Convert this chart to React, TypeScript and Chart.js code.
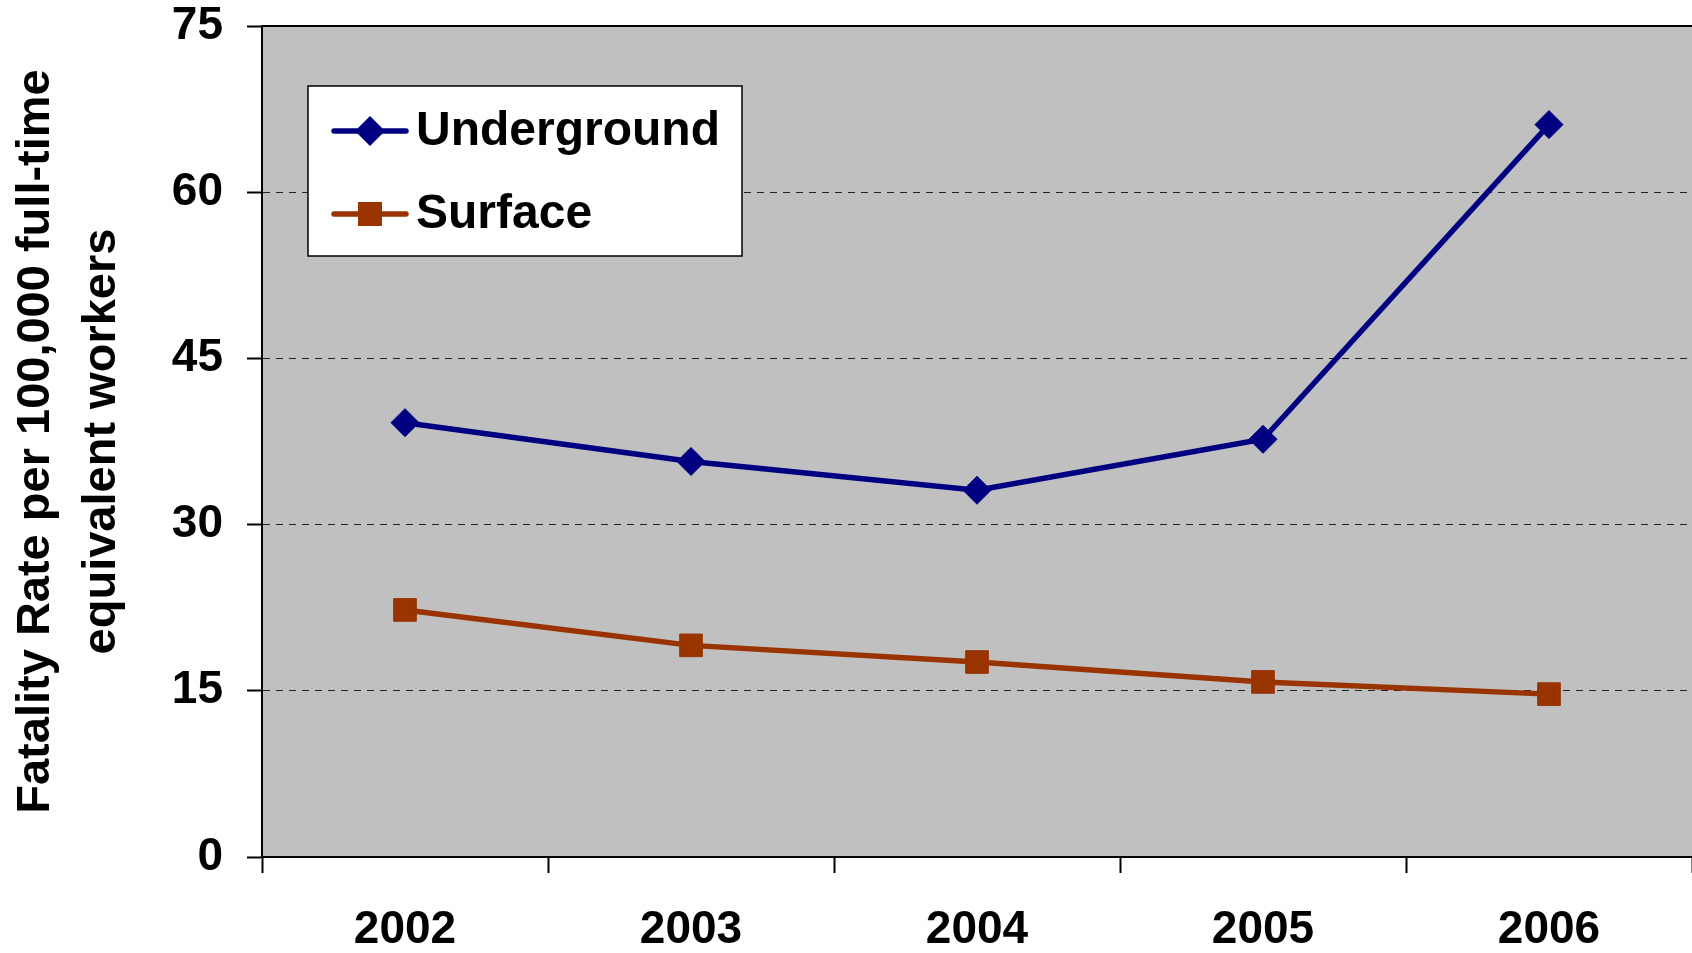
import React, { useEffect, useRef } from "react";
import { Chart, registerables } from "chart.js";

Chart.register(...registerables);

const years = ["2002", "2003", "2004", "2005", "2006"];
const underground = [39.2, 35.7, 33.1, 37.7, 66.1];
const surface = [22.3, 19.1, 17.6, 15.8, 14.7];
const seriesNames = ["Underground", "Surface"];
const yMin = 0;
const yMax = 75;
const yStep = 15;
const yTitle = ["Fatality Rate per 100,000 full-time", "equivalent workers"];

const FONT = "'Liberation Sans', Arial, Helvetica, sans-serif";
const NAVY = "#000080";
const RUST = "#993300";

const plotPlugin = {
  id: "plotDecor",
  beforeDraw(chart: any) {
    const { ctx, chartArea: a } = chart;
    ctx.save();
    ctx.fillStyle = "#C0C0C0";
    ctx.fillRect(a.left, a.top, a.right - a.left, a.bottom - a.top);
    ctx.restore();
  },
  beforeDatasetsDraw(chart: any) {
    const { ctx, chartArea: a } = chart;
    ctx.save();
    ctx.strokeStyle = "#000";
    ctx.lineWidth = 2;
    ctx.beginPath();
    ctx.moveTo(a.left, a.top);
    ctx.lineTo(a.right, a.top);
    ctx.stroke();
    ctx.restore();
  },
  afterDatasetsDraw(chart: any) {
    const { ctx, chartArea: a } = chart;
    const bx = a.left + 46;
    const by = a.top + 60;
    const bw = 434;
    const bh = 170;
    ctx.save();
    ctx.fillStyle = "#fff";
    ctx.fillRect(bx, by, bw, bh);
    ctx.strokeStyle = "#000";
    ctx.lineWidth = 1.5;
    ctx.strokeRect(bx, by, bw, bh);
    const items = chart.data.datasets.map((ds: any, i: number) => ({
      label: ds.label,
      color: ds.borderColor,
      style: ds.pointStyle,
      y: by + (i === 0 ? 45 : 128),
    }));
    items.forEach((it: any) => {
      const x0 = bx + 26;
      const x1 = bx + 98;
      const cx = bx + 62;
      ctx.strokeStyle = it.color;
      ctx.lineWidth = 5.5;
      ctx.lineCap = "round";
      ctx.beginPath();
      ctx.moveTo(x0, it.y);
      ctx.lineTo(x1, it.y);
      ctx.stroke();
      ctx.fillStyle = it.color;
      ctx.beginPath();
      if (it.style === "rectRot") {
        const r = 15;
        ctx.moveTo(cx - r, it.y);
        ctx.lineTo(cx, it.y - r);
        ctx.lineTo(cx + r, it.y);
        ctx.lineTo(cx, it.y + r);
        ctx.closePath();
      } else {
        const h = 12;
        ctx.rect(cx - h, it.y - h, 2 * h, 2 * h);
      }
      ctx.fill();
      ctx.fillStyle = "#000";
      ctx.font = `bold 48px ${FONT}`;
      ctx.textAlign = "left";
      ctx.textBaseline = "middle";
      ctx.fillText(it.label, bx + 108, it.y + 1);
    });
    ctx.restore();
  },
};

export default function App() {
  const ref = useRef<HTMLCanvasElement | null>(null);

  useEffect(() => {
    if (!ref.current) return;
    Chart.defaults.font.family = FONT;
    const chart = new Chart(ref.current, {
      type: "line",
      data: {
        labels: years,
        datasets: [
          {
            label: seriesNames[0],
            data: underground,
            borderColor: NAVY,
            backgroundColor: NAVY,
            borderWidth: 5.5,
            pointStyle: "rectRot",
            pointRadius: 14,
            pointBorderWidth: 1,
            pointBackgroundColor: NAVY,
            pointBorderColor: NAVY,
            tension: 0,
            fill: false,
          },
          {
            label: seriesNames[1],
            data: surface,
            borderColor: RUST,
            backgroundColor: RUST,
            borderWidth: 5.5,
            pointStyle: "rect",
            pointRadius: 16,
            pointBorderWidth: 1,
            pointBackgroundColor: RUST,
            pointBorderColor: RUST,
            tension: 0,
            fill: false,
          },
        ],
      },
      options: {
        responsive: false,
        animation: false,
        layout: { autoPadding: false, padding: { top: 26, right: -6, left: 0, bottom: 0 } },
        plugins: {
          legend: { display: false },
          tooltip: { enabled: false },
        },
        scales: {
          x: {
            type: "category",
            offset: true,
            afterFit(s: any) {
              s.height = 96;
              s.paddingLeft = 0;
              s.paddingRight = 0;
            },
            grid: {
              offset: true,
              drawOnChartArea: false,
              drawTicks: true,
              tickLength: 16,
              tickColor: "#000",
              tickWidth: 2,
            },
            border: { display: true, color: "#000", width: 2 },
            ticks: {
              color: "#000",
              font: { size: 46, weight: "bold", lineHeight: 0.9 },
              padding: 37,
              maxRotation: 0,
              autoSkip: false,
            },
          },
          y: {
            min: yMin,
            max: yMax,
            afterFit(s: any) {
              s.width = 262;
              s.paddingTop = 0;
              s.paddingBottom = 0;
            },
            grid: {
              color: "#222",
              lineWidth: 1,
              drawTicks: true,
              tickLength: 15,
              tickColor: "#000",
              tickWidth: 2,
            },
            border: { display: true, color: "#000", width: 2, dash: [7, 6] },
            ticks: {
              stepSize: yStep,
              color: "#000",
              font: { size: 46, weight: "bold", lineHeight: 1.0 },
              padding: 24,
            },
            title: {
              display: true,
              text: yTitle,
              color: "#000",
              font: { size: 47, weight: "bold", lineHeight: 1.4 },
              padding: { top: 3, bottom: 38 },
            },
          },
        },
      },
      plugins: [plotPlugin],
    } as any);
    return () => chart.destroy();
  }, []);

  return (
    <div style={{ position: "fixed", left: 0, top: 0, width: 1692, height: 953, background: "#fff", overflow: "hidden" }}>
      <canvas ref={ref} width={1692} height={953} />
    </div>
  );
}
